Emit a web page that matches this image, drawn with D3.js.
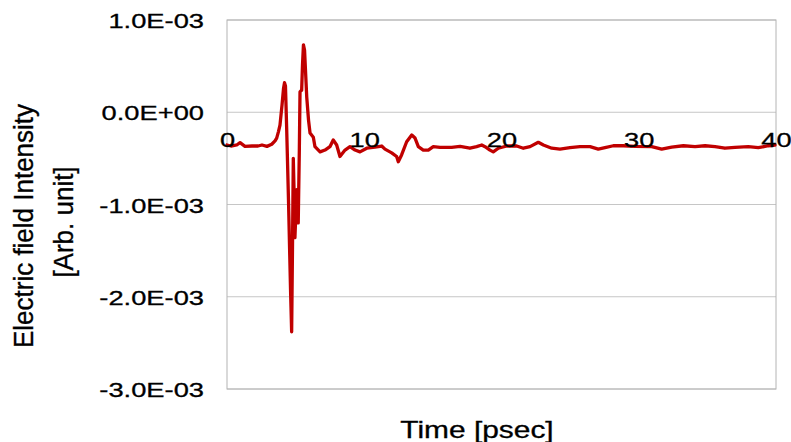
<!DOCTYPE html>
<html>
<head>
<meta charset="utf-8">
<script src="https://cdn.jsdelivr.net/npm/d3@7"></script>
<style>
  html, body { margin: 0; padding: 0; background: #ffffff; }
  svg { display: block; }
  text { font-family: "Liberation Sans", Arial, Helvetica, sans-serif; fill: #000; stroke: #000; stroke-width: 0.3px; }
</style>
</head>
<body>
<svg id="chart" width="791" height="442"></svg>
<script>
// Waveform samples: time in picoseconds, field in units of 1E-03 (arb.)
const timePs = [
  0, 0.29, 0.71, 0.95, 1.31, 1.82, 2.26, 2.55, 2.91, 3.26,
  3.50, 3.62, 3.75, 3.86, 4.01, 4.12, 4.19, 4.26, 4.35, 4.48,
  4.63, 4.71, 4.77, 4.83, 4.90, 4.95, 5.08, 5.19, 5.27, 5.32,
  5.44, 5.50, 5.57, 5.65, 5.81, 5.94, 6.05, 6.29, 6.41, 6.78,
  7.14, 7.50, 7.74, 7.99, 8.23, 8.60, 8.96, 9.33, 9.69, 10.18,
  10.78, 11.27, 11.51, 12.00, 12.36, 12.48, 12.72, 13.09, 13.46, 13.70,
  13.94, 14.30, 14.67, 15.03, 15.52, 16.37, 16.98, 17.70, 18.19, 18.56,
  18.80, 19.16, 19.40, 19.77, 20.38, 21.11, 21.59, 22.08, 22.68, 23.05,
  23.66, 24.26, 24.99, 25.72, 26.45, 27.05, 27.54, 28.15, 28.87, 29.73,
  30.94, 31.67, 32.40, 33.25, 34.10, 34.83, 35.56, 36.28, 37.01, 37.98,
  38.71, 39.44, 39.93
];
const fieldMilli = [
  -0.355, -0.366, -0.355, -0.33, -0.37, -0.366, -0.366, -0.355, -0.37, -0.347,
  -0.31, -0.28, -0.21, -0.14, 0.08, 0.26, 0.32, 0.285, -0.19, -0.95,
  -1.93, -2.38, -1.49, -0.50, -0.95, -1.36, -0.84, -1.20, -0.41, 0.22,
  0.24, 0.51, 0.73, 0.675, 0.165, -0.085, -0.225, -0.27, -0.373, -0.43,
  -0.41, -0.373, -0.30, -0.355, -0.48, -0.41, -0.373, -0.41, -0.43, -0.39,
  -0.377, -0.366, -0.40, -0.44, -0.48, -0.536, -0.463, -0.32, -0.247, -0.28,
  -0.373, -0.41, -0.41, -0.373, -0.38, -0.38, -0.37, -0.39, -0.373, -0.355,
  -0.373, -0.41, -0.43, -0.39, -0.366, -0.366, -0.39, -0.373, -0.326, -0.355,
  -0.39, -0.40, -0.384, -0.373, -0.373, -0.40, -0.384, -0.363, -0.363, -0.37,
  -0.373, -0.40, -0.377, -0.363, -0.373, -0.363, -0.373, -0.39, -0.38, -0.373,
  -0.384, -0.363, -0.355
];

const xTicks = [0, 10, 20, 30, 40];
const xTickLabels = ["0", "10", "20", "30", "40"];
const yTicks = [1, 0, -1, -2, -3];
const yTickLabels = ["1.0E-03", "0.0E+00", "-1.0E-03", "-2.0E-03", "-3.0E-03"];
const xTitle = "Time [psec]";
const yTitleLines = ["Electric field Intensity", "[Arb. unit]"];

const svg = d3.select("#chart");
const plot = { left: 227, right: 776, top: 20, bottom: 389 };
const textStretch = 1.3; // the type is set slightly wide

const x = d3.scaleLinear().domain([0, 40]).range([plot.left, plot.right]);
const y = d3.scaleLinear().domain([-3, 1]).range([plot.bottom, plot.top]);

// horizontal gridlines
svg.append("g")
  .selectAll("line")
  .data(yTicks)
  .join("line")
  .attr("x1", plot.left)
  .attr("x2", plot.right)
  .attr("y1", d => y(d))
  .attr("y2", d => y(d))
  .attr("stroke", "#c6c6c6")
  .attr("stroke-width", 1);

// plot frame
svg.append("rect")
  .attr("x", plot.left)
  .attr("y", plot.top)
  .attr("width", plot.right - plot.left)
  .attr("height", plot.bottom - plot.top)
  .attr("fill", "none")
  .attr("stroke", "#b4b4b4")
  .attr("stroke-width", 1);

// waveform
const points = timePs.map((t, i) => [t, fieldMilli[i]]);
const line = d3.line()
  .x(d => x(d[0]))
  .y(d => y(d[1]))
  .curve(d3.curveLinear);

svg.append("path")
  .datum(points)
  .attr("d", line)
  .attr("fill", "none")
  .attr("stroke", "#c00000")
  .attr("stroke-width", 3.3)
  .attr("stroke-linejoin", "round")
  .attr("stroke-linecap", "round");

// y axis labels
const yAxis = d3.axisLeft(y)
  .tickValues(yTicks)
  .tickFormat((d, i) => yTickLabels[i])
  .tickSize(0);

const gy = svg.append("g")
  .attr("transform", `translate(${plot.left},0)`)
  .call(yAxis);
gy.select(".domain").remove();
gy.selectAll("text")
  .attr("x", 0)
  .attr("dy", null)
  .attr("text-anchor", "end")
  .attr("transform", `translate(-23,7.5) scale(${textStretch},1)`)
  .style("font-size", "21px")
  .style("font-family", "'Liberation Sans', Arial, sans-serif")
  .attr("fill", "#000");

// x axis labels sit along the zero line
const xAxis = d3.axisBottom(x)
  .tickValues(xTicks)
  .tickFormat((d, i) => xTickLabels[i])
  .tickSize(0);

const gx = svg.append("g")
  .attr("transform", `translate(0,${y(0)})`)
  .call(xAxis);
gx.select(".domain").remove();
gx.selectAll("text")
  .attr("y", 0)
  .attr("dy", null)
  .attr("text-anchor", "middle")
  .attr("transform", `translate(0,34.5) scale(${textStretch},1)`)
  .style("font-size", "21px")
  .style("font-family", "'Liberation Sans', Arial, sans-serif")
  .attr("fill", "#000");

// x axis title
svg.append("text")
  .attr("transform", `translate(477,437.5) scale(${textStretch},1)`)
  .attr("text-anchor", "middle")
  .style("font-size", "23px")
  .text(xTitle);

// y axis title, two lines
const yTitleX = [33, 73];
svg.append("g")
  .selectAll("text")
  .data(yTitleLines)
  .join("text")
  .attr("transform", (d, i) => `translate(${yTitleX[i]},${i === 0 ? 226 : 222}) rotate(-90) scale(1,1.05)`)
  .attr("text-anchor", "middle")
  .style("font-size", "26px")
  .text(d => d);
</script>
</body>
</html>
